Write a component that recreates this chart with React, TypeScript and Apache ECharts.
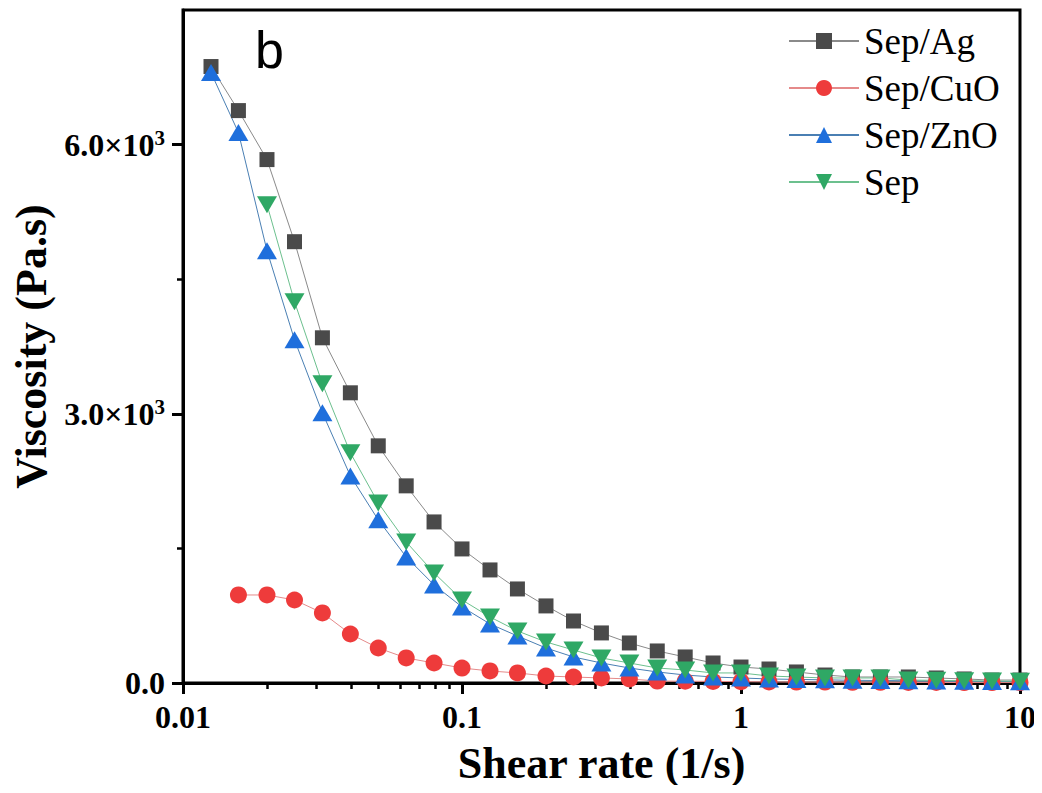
import React, { useEffect, useRef } from "react";
import * as echarts from "echarts";

const shearRate = [
  0.0126, 0.0158, 0.02, 0.0251, 0.0316, 0.0398, 0.0501, 0.0631, 0.0794, 0.1,
  0.126, 0.158, 0.2, 0.251, 0.316, 0.398, 0.501, 0.631, 0.794, 1,
  1.26, 1.58, 2, 2.51, 3.16, 3.98, 5.01, 6.31, 7.94, 10,
];

const sepAg = [
  6870, 6379, 5833, 4918, 3847, 3234, 2643, 2197, 1795, 1494,
  1260, 1048, 859, 691, 558, 446, 357, 290, 223, 178,
  156, 123, 89, 67, 67, 67, 56, 45, 33, 33,
];

// starts at the 2nd shear rate
const sepCuO = [
  981, 981, 925, 781, 546, 390, 279, 223, 167,
  134, 112, 78, 67, 56, 45, 22, 20, 18, 15,
  12, 10, 10, 8, 8, 6, 6, 5, 5, 5,
];

const sepZnO = [
  6803, 6134, 4818, 3825, 3011, 2308, 1818, 1405, 1093, 848,
  658, 524, 390, 290, 223, 167, 123, 89, 67, 56,
  45, 40, 35, 30, 28, 25, 22, 20, 18, 15,
];

// starts at the 3rd shear rate
const sep = [
  5331, 4249, 3334, 2565, 2007, 1572, 1227, 926,
  736, 580, 457, 368, 279, 223, 167, 145, 112, 112,
  78, 67, 56, 56, 56, 33, 30, 25, 22, 20,
];

const xMajorTicks = [0.01, 0.1, 1, 10];
const xMinorTicks = [
  0.02, 0.03, 0.04, 0.05, 0.06, 0.07, 0.08, 0.09,
  0.2, 0.3, 0.4, 0.5, 0.6, 0.7, 0.8, 0.9,
  2, 3, 4, 5, 6, 7, 8, 9,
];
const yMajorTicks = [0, 3000, 6000];
const yMinorTicks = [1500, 4500];

const SERIF = "'Liberation Serif', 'Times New Roman', serif";

function pairs(values: number[], offset: number) {
  return values.map((v, i) => [shearRate[i + offset], v]);
}

export default function App() {
  const ref = useRef<HTMLDivElement>(null);

  useEffect(() => {
    if (!ref.current) return;
    const chart = echarts.init(ref.current, null, { renderer: "svg" });

    const mkSeries = (
      name: string,
      data: number[][],
      symbol: string,
      symbolSize: number | number[],
      color: string,
      lineColor: string
    ) => ({
      name,
      type: "line",
      data,
      symbol,
      symbolSize,
      showAllSymbol: true,
      itemStyle: { color, opacity: 1 },
      lineStyle: { color: lineColor, width: 1 },
      emphasis: { disabled: true },
    });

    chart.setOption({
      animation: false,
      backgroundColor: "#ffffff",
      grid: {
        left: 183,
        right: 22,
        top: 10,
        bottom: 110,
        show: true,
        borderColor: "#000",
        borderWidth: 3,
      },
      legend: {
        orient: "vertical",
        left: 783,
        top: 17,
        itemWidth: 70,
        itemHeight: 20,
        itemGap: 9,
        textStyle: {
          fontFamily: SERIF,
          fontSize: 37,
          color: "#000",
          lineHeight: 38,
        },
        data: ["Sep/Ag", "Sep/CuO", "Sep/ZnO", "Sep"],
      },
      xAxis: [
        {
          type: "log",
          logBase: 10,
          min: 0.01,
          max: 10,
          name: "Shear rate (1/s)",
          nameLocation: "middle",
          nameGap: 58,
          nameTextStyle: {
            fontFamily: SERIF,
            fontWeight: "bold",
            fontSize: 44,
            color: "#000",
          },
          axisLine: { lineStyle: { color: "#000", width: 3 } },
          axisTick: {
            inside: false,
            length: 11,
            customValues: xMajorTicks,
            lineStyle: { color: "#000", width: 3 },
          },
          axisLabel: {
            customValues: xMajorTicks,
            margin: 18,
            fontFamily: SERIF,
            fontWeight: "bold",
            fontSize: 32,
            color: "#000",
            formatter: (v: number) => String(Number(v.toPrecision(3))),
          },
          splitLine: { show: false },
          minorSplitLine: { show: false },
        },
        {
          type: "log",
          logBase: 10,
          min: 0.01,
          max: 10,
          position: "bottom",
          axisLine: { show: false },
          axisTick: {
            inside: false,
            length: 6,
            customValues: xMinorTicks,
            lineStyle: { color: "#000", width: 2.5 },
          },
          axisLabel: { show: false },
          splitLine: { show: false },
        },
      ],
      yAxis: [
        {
          type: "value",
          min: 0,
          max: 7500,
          name: "Viscosity (Pa.s)",
          nameLocation: "middle",
          nameGap: 121,
          nameTextStyle: {
            fontFamily: SERIF,
            fontWeight: "bold",
            fontSize: 44,
            color: "#000",
          },
          axisLine: { show: true, lineStyle: { color: "#000", width: 3 } },
          axisTick: {
            show: true,
            inside: false,
            length: 11,
            customValues: yMajorTicks,
            lineStyle: { color: "#000", width: 3 },
          },
          axisLabel: {
            customValues: yMajorTicks,
            margin: 18,
            formatter: (v: number) =>
              v === 0 ? "{a|0.0}" : `{a|${(v / 1000).toFixed(1)}×10}{sup|3}`,
            rich: {
              a: {
                fontFamily: SERIF,
                fontWeight: "bold",
                fontSize: 32,
                color: "#000",
              },
              sup: {
                fontFamily: SERIF,
                fontWeight: "bold",
                fontSize: 21,
                color: "#000",
                padding: [0, 0, 13, 0],
              },
            },
          },
          splitLine: { show: false },
        },
        {
          type: "value",
          min: 0,
          max: 7500,
          position: "left",
          axisLine: { show: false },
          axisTick: {
            show: true,
            inside: false,
            length: 6,
            customValues: yMinorTicks,
            lineStyle: { color: "#000", width: 2.5 },
          },
          axisLabel: { show: false },
          splitLine: { show: false },
        },
      ],
      graphic: [
        {
          type: "text",
          left: 255,
          top: 24,
          style: {
            text: "b",
            font: "52px 'Liberation Sans', Arial, sans-serif",
            fill: "#000",
          },
        },
      ],
      series: [
        mkSeries("Sep/Ag", pairs(sepAg, 0), "rect", 15, "#4a4a4a", "#8a8a8a"),
        mkSeries("Sep/CuO", pairs(sepCuO, 1), "circle", 17, "#ee3b3b", "#e58a8a"),
        mkSeries("Sep/ZnO", pairs(sepZnO, 0), "triangle", [20, 17], "#1f6fdc", "#4a7fb3"),
        mkSeries(
          "Sep",
          pairs(sep, 2),
          "path://M0,0 L10,0 L5,8.5 Z",
          [20, 17],
          "#2fa865",
          "#6cc08e"
        ),
      ],
    });

    return () => chart.dispose();
  }, []);

  return <div ref={ref} style={{ width: 1042, height: 793, margin: -8 }} />;
}
